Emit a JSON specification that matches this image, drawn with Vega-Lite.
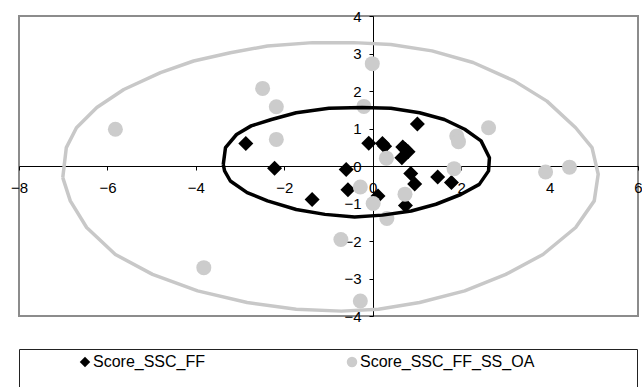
{
  "$schema": "https://vega.github.io/schema/vega-lite/v6.json",
  "background": "white",
  "padding": {"left": 9, "top": 8, "right": 0, "bottom": 0},
  "bounds": "flush",
  "spacing": 33,
  "config": {
    "font": "Liberation Sans",
    "axis": {"grid": false, "title": null, "domainColor": "#000", "domainWidth": 1, "tickColor": "#000", "tickSize": 4, "tickWidth": 1, "labelColor": "#000", "labelFontSize": 15, "labelFlush": false, "labelOverlap": false, "labelBound": false}
  },
  "datasets": {
    "pts": [
      {"series": "Score_SSC_FF", "x": -2.87, "y": 0.60},
      {"series": "Score_SSC_FF", "x": -2.22, "y": -0.06},
      {"series": "Score_SSC_FF", "x": -1.37, "y": -0.89},
      {"series": "Score_SSC_FF", "x": -0.60, "y": -0.09},
      {"series": "Score_SSC_FF", "x": -0.56, "y": -0.63},
      {"series": "Score_SSC_FF", "x": -0.09, "y": 0.61},
      {"series": "Score_SSC_FF", "x": 0.12, "y": -0.80},
      {"series": "Score_SSC_FF", "x": 0.22, "y": 0.60},
      {"series": "Score_SSC_FF", "x": 0.27, "y": 0.53},
      {"series": "Score_SSC_FF", "x": 0.68, "y": 0.51},
      {"series": "Score_SSC_FF", "x": 0.80, "y": 0.38},
      {"series": "Score_SSC_FF", "x": 0.66, "y": 0.22},
      {"series": "Score_SSC_FF", "x": 0.74, "y": 0.44},
      {"series": "Score_SSC_FF", "x": 1.01, "y": 1.12},
      {"series": "Score_SSC_FF", "x": 0.86, "y": -0.20},
      {"series": "Score_SSC_FF", "x": 0.95, "y": -0.48},
      {"series": "Score_SSC_FF", "x": 0.74, "y": -1.05},
      {"series": "Score_SSC_FF", "x": 1.47, "y": -0.29},
      {"series": "Score_SSC_FF", "x": 1.78, "y": -0.44},
      {"series": "Score_SSC_FF_SS_OA", "x": -5.82, "y": 0.98},
      {"series": "Score_SSC_FF_SS_OA", "x": -3.82, "y": -2.71},
      {"series": "Score_SSC_FF_SS_OA", "x": -2.49, "y": 2.07},
      {"series": "Score_SSC_FF_SS_OA", "x": -2.18, "y": 1.58},
      {"series": "Score_SSC_FF_SS_OA", "x": -2.18, "y": 0.71},
      {"series": "Score_SSC_FF_SS_OA", "x": -0.72, "y": -1.96},
      {"series": "Score_SSC_FF_SS_OA", "x": -0.28, "y": -3.60},
      {"series": "Score_SSC_FF_SS_OA", "x": -0.28, "y": -0.56},
      {"series": "Score_SSC_FF_SS_OA", "x": -0.20, "y": 1.59},
      {"series": "Score_SSC_FF_SS_OA", "x": -0.01, "y": 2.73},
      {"series": "Score_SSC_FF_SS_OA", "x": 0.01, "y": -1.00},
      {"series": "Score_SSC_FF_SS_OA", "x": 0.31, "y": 0.21},
      {"series": "Score_SSC_FF_SS_OA", "x": 0.32, "y": -1.40},
      {"series": "Score_SSC_FF_SS_OA", "x": 0.73, "y": -0.75},
      {"series": "Score_SSC_FF_SS_OA", "x": 1.84, "y": -0.07},
      {"series": "Score_SSC_FF_SS_OA", "x": 1.90, "y": 0.80},
      {"series": "Score_SSC_FF_SS_OA", "x": 1.94, "y": 0.65},
      {"series": "Score_SSC_FF_SS_OA", "x": 2.62, "y": 1.02},
      {"series": "Score_SSC_FF_SS_OA", "x": 3.91, "y": -0.16},
      {"series": "Score_SSC_FF_SS_OA", "x": 4.45, "y": -0.03}
    ],
    "outer": [
      {"i": 0, "x": -7.01, "y": -0.31},
      {"i": 1, "x": -6.93, "y": 0.49},
      {"i": 2, "x": -6.70, "y": 1.02},
      {"i": 3, "x": -6.24, "y": 1.56},
      {"i": 4, "x": -5.63, "y": 2.04},
      {"i": 5, "x": -4.80, "y": 2.49},
      {"i": 6, "x": -4.05, "y": 2.80},
      {"i": 7, "x": -3.22, "y": 3.02},
      {"i": 8, "x": -2.38, "y": 3.20},
      {"i": 9, "x": -1.36, "y": 3.29},
      {"i": 10, "x": -0.43, "y": 3.29},
      {"i": 11, "x": 0.41, "y": 3.24},
      {"i": 12, "x": 1.34, "y": 3.07},
      {"i": 13, "x": 2.27, "y": 2.76},
      {"i": 14, "x": 3.20, "y": 2.27},
      {"i": 15, "x": 3.94, "y": 1.73},
      {"i": 16, "x": 4.59, "y": 1.02},
      {"i": 17, "x": 4.96, "y": 0.49},
      {"i": 18, "x": 5.10, "y": -0.22},
      {"i": 19, "x": 5.01, "y": -0.93},
      {"i": 20, "x": 4.59, "y": -1.64},
      {"i": 21, "x": 3.85, "y": -2.36},
      {"i": 22, "x": 3.01, "y": -2.89},
      {"i": 23, "x": 2.08, "y": -3.33},
      {"i": 24, "x": 1.06, "y": -3.64},
      {"i": 25, "x": 0.13, "y": -3.82},
      {"i": 26, "x": -0.71, "y": -3.87},
      {"i": 27, "x": -1.73, "y": -3.82},
      {"i": 28, "x": -2.84, "y": -3.64},
      {"i": 29, "x": -3.96, "y": -3.33},
      {"i": 30, "x": -4.98, "y": -2.89},
      {"i": 31, "x": -5.82, "y": -2.36},
      {"i": 32, "x": -6.47, "y": -1.64},
      {"i": 33, "x": -6.84, "y": -0.93},
      {"i": 34, "x": -7.01, "y": -0.31}
    ],
    "inner": [
      {"i": 0, "x": -3.38, "y": 0.04},
      {"i": 1, "x": -3.33, "y": 0.49},
      {"i": 2, "x": -3.08, "y": 0.84},
      {"i": 3, "x": -2.75, "y": 1.07},
      {"i": 4, "x": -2.29, "y": 1.24},
      {"i": 5, "x": -1.73, "y": 1.42},
      {"i": 6, "x": -0.99, "y": 1.54},
      {"i": 7, "x": -0.24, "y": 1.56},
      {"i": 8, "x": 0.41, "y": 1.54},
      {"i": 9, "x": 1.06, "y": 1.42},
      {"i": 10, "x": 1.62, "y": 1.24},
      {"i": 11, "x": 2.08, "y": 0.98},
      {"i": 12, "x": 2.45, "y": 0.67},
      {"i": 13, "x": 2.64, "y": 0.22},
      {"i": 14, "x": 2.62, "y": -0.13},
      {"i": 15, "x": 2.41, "y": -0.49},
      {"i": 16, "x": 1.99, "y": -0.76},
      {"i": 17, "x": 1.43, "y": -1.02},
      {"i": 18, "x": 0.87, "y": -1.20},
      {"i": 19, "x": 0.22, "y": -1.31},
      {"i": 20, "x": -0.41, "y": -1.36},
      {"i": 21, "x": -1.08, "y": -1.29},
      {"i": 22, "x": -1.73, "y": -1.16},
      {"i": 23, "x": -2.38, "y": -0.93},
      {"i": 24, "x": -2.84, "y": -0.71},
      {"i": 25, "x": -3.22, "y": -0.40},
      {"i": 26, "x": -3.35, "y": -0.13},
      {"i": 27, "x": -3.38, "y": 0.04}
    ]
  },
  "vconcat": [
    {
      "width": 619,
      "height": 300,
      "view": {"stroke": "#8c8c8c", "strokeWidth": 2},
      "encoding": {
        "x": {"field": "x", "type": "quantitative", "scale": {"domain": [-8, 6], "nice": false, "zero": false},
          "axis": {"orient": "bottom", "offset": -150, "values": [-8, -6, -4, -2, 0, 2, 4, 6], "labelPadding": 10}},
        "y": {"field": "y", "type": "quantitative", "scale": {"domain": [-4, 4], "nice": false, "zero": false},
          "axis": {"orient": "left", "offset": -354, "values": [-4, -3, -2, -1, 0, 1, 2, 3, 4], "labelPadding": 8}}
      },
      "layer": [
        {
          "data": {"name": "pts"},
          "mark": {"type": "point", "filled": true, "opacity": 1, "size": 225, "strokeWidth": 0},
          "encoding": {
            "color": {"field": "series", "type": "nominal",
              "scale": {"domain": ["Score_SSC_FF", "Score_SSC_FF_SS_OA"], "range": ["#000000", "#cccccc"]},
              "legend": {"orient": "none", "legendX": 58, "legendY": 338, "direction": "horizontal", "title": null, "labelFontSize": 16, "labelColor": "#000", "labelLimit": 400, "symbolSize": 110, "columnPadding": 138, "labelOffset": 0, "padding": 0, "symbolStrokeWidth": 0}},
            "shape": {"field": "series", "type": "nominal",
              "scale": {"domain": ["Score_SSC_FF", "Score_SSC_FF_SS_OA"], "range": ["diamond", "circle"]},
              "legend": {"orient": "none", "legendX": 58, "legendY": 338, "direction": "horizontal", "title": null, "labelFontSize": 16, "labelColor": "#000", "labelLimit": 400, "symbolSize": 110, "columnPadding": 138, "labelOffset": 0, "padding": 0, "symbolStrokeWidth": 0}}
          }
        },
        {
          "data": {"name": "outer"},
          "mark": {"type": "line", "color": "#c8c8c8", "strokeWidth": 3.5, "strokeJoin": "round"},
          "encoding": {"order": {"field": "i", "type": "quantitative"}}
        },
        {
          "data": {"name": "inner"},
          "mark": {"type": "line", "color": "#000000", "strokeWidth": 3.5, "strokeJoin": "round"},
          "encoding": {"order": {"field": "i", "type": "quantitative"}}
        }
      ]
    },
    {
      "width": 618,
      "height": 50,
      "view": {"stroke": "#222222", "strokeWidth": 1},
      "data": {"values": [{"a": 1}]},
      "mark": {"type": "point", "opacity": 0},
      "encoding": {}
    }
  ]
}
